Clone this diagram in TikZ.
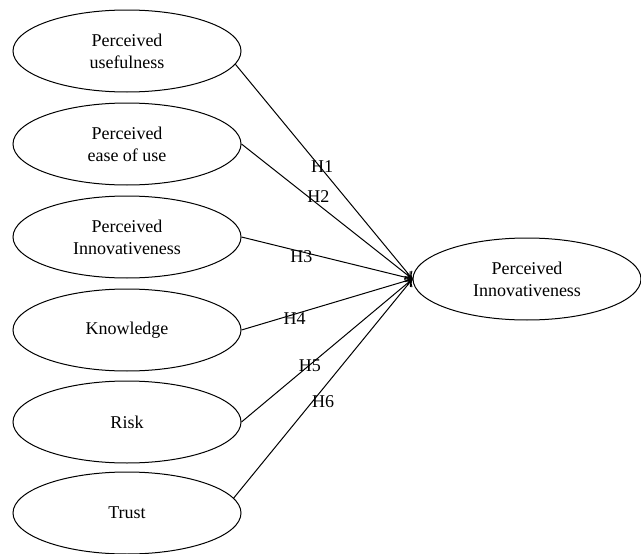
\documentclass[tikz,border=0pt]{standalone}
\usepackage{fontspec}
\setmainfont{Liberation Serif}
\usetikzlibrary{shapes.geometric,arrows.meta}

\begin{document}
\begin{tikzpicture}[x=1pt,y=-1pt,
  construct/.style={ellipse, draw, line width=1pt, minimum width=228pt, minimum height=82pt, inner sep=0pt, align=center, font=\fontsize{18}{22}\selectfont},
  link/.style={-{To[length=7pt,width=10pt]}, line width=1pt},
  hyp/.style={inner sep=0pt, font=\fontsize{18}{20}\selectfont}]

\useasboundingbox (0,0) rectangle (641,554);

% left column
\node[construct] (usef) at (127,51) {Perceived\\usefulness};
\node[construct] (ease) at (127,144) {Perceived\\ease of use};
\node[construct] (innov) at (127,237) {Perceived\\Innovativeness};
\node[construct] (know) at (127,330) {Knowledge};
\node[construct] (risk) at (127,422) {Risk};
\node[construct] (trust) at (127,513) {Trust};

% right side
\node[construct] (target) at (527,279) {Perceived\\Innovativeness};

%hypotheses
\draw[link] (usef.-7) -- node[hyp, pos=0.49, yshift=3pt] {H1} (target.west);
\draw[link] (ease.east) -- node[hyp, pos=0.45, yshift=8pt] {H2} (target.west);
\draw[link] (innov.east) -- node[hyp, pos=0.35, yshift=-5pt] {H3} (target.west);
\draw[link] (know.east) -- node[hyp, pos=0.31, yshift=-4pt] {H4} (target.west);
\draw[link] (risk.east) -- node[hyp, pos=0.40, yshift=-1pt] {H5} (target.west);
\draw[link] (trust.8) -- node[hyp, pos=0.50, yshift=-13pt] {H6} (target.west);

\end{tikzpicture}
\end{document}
